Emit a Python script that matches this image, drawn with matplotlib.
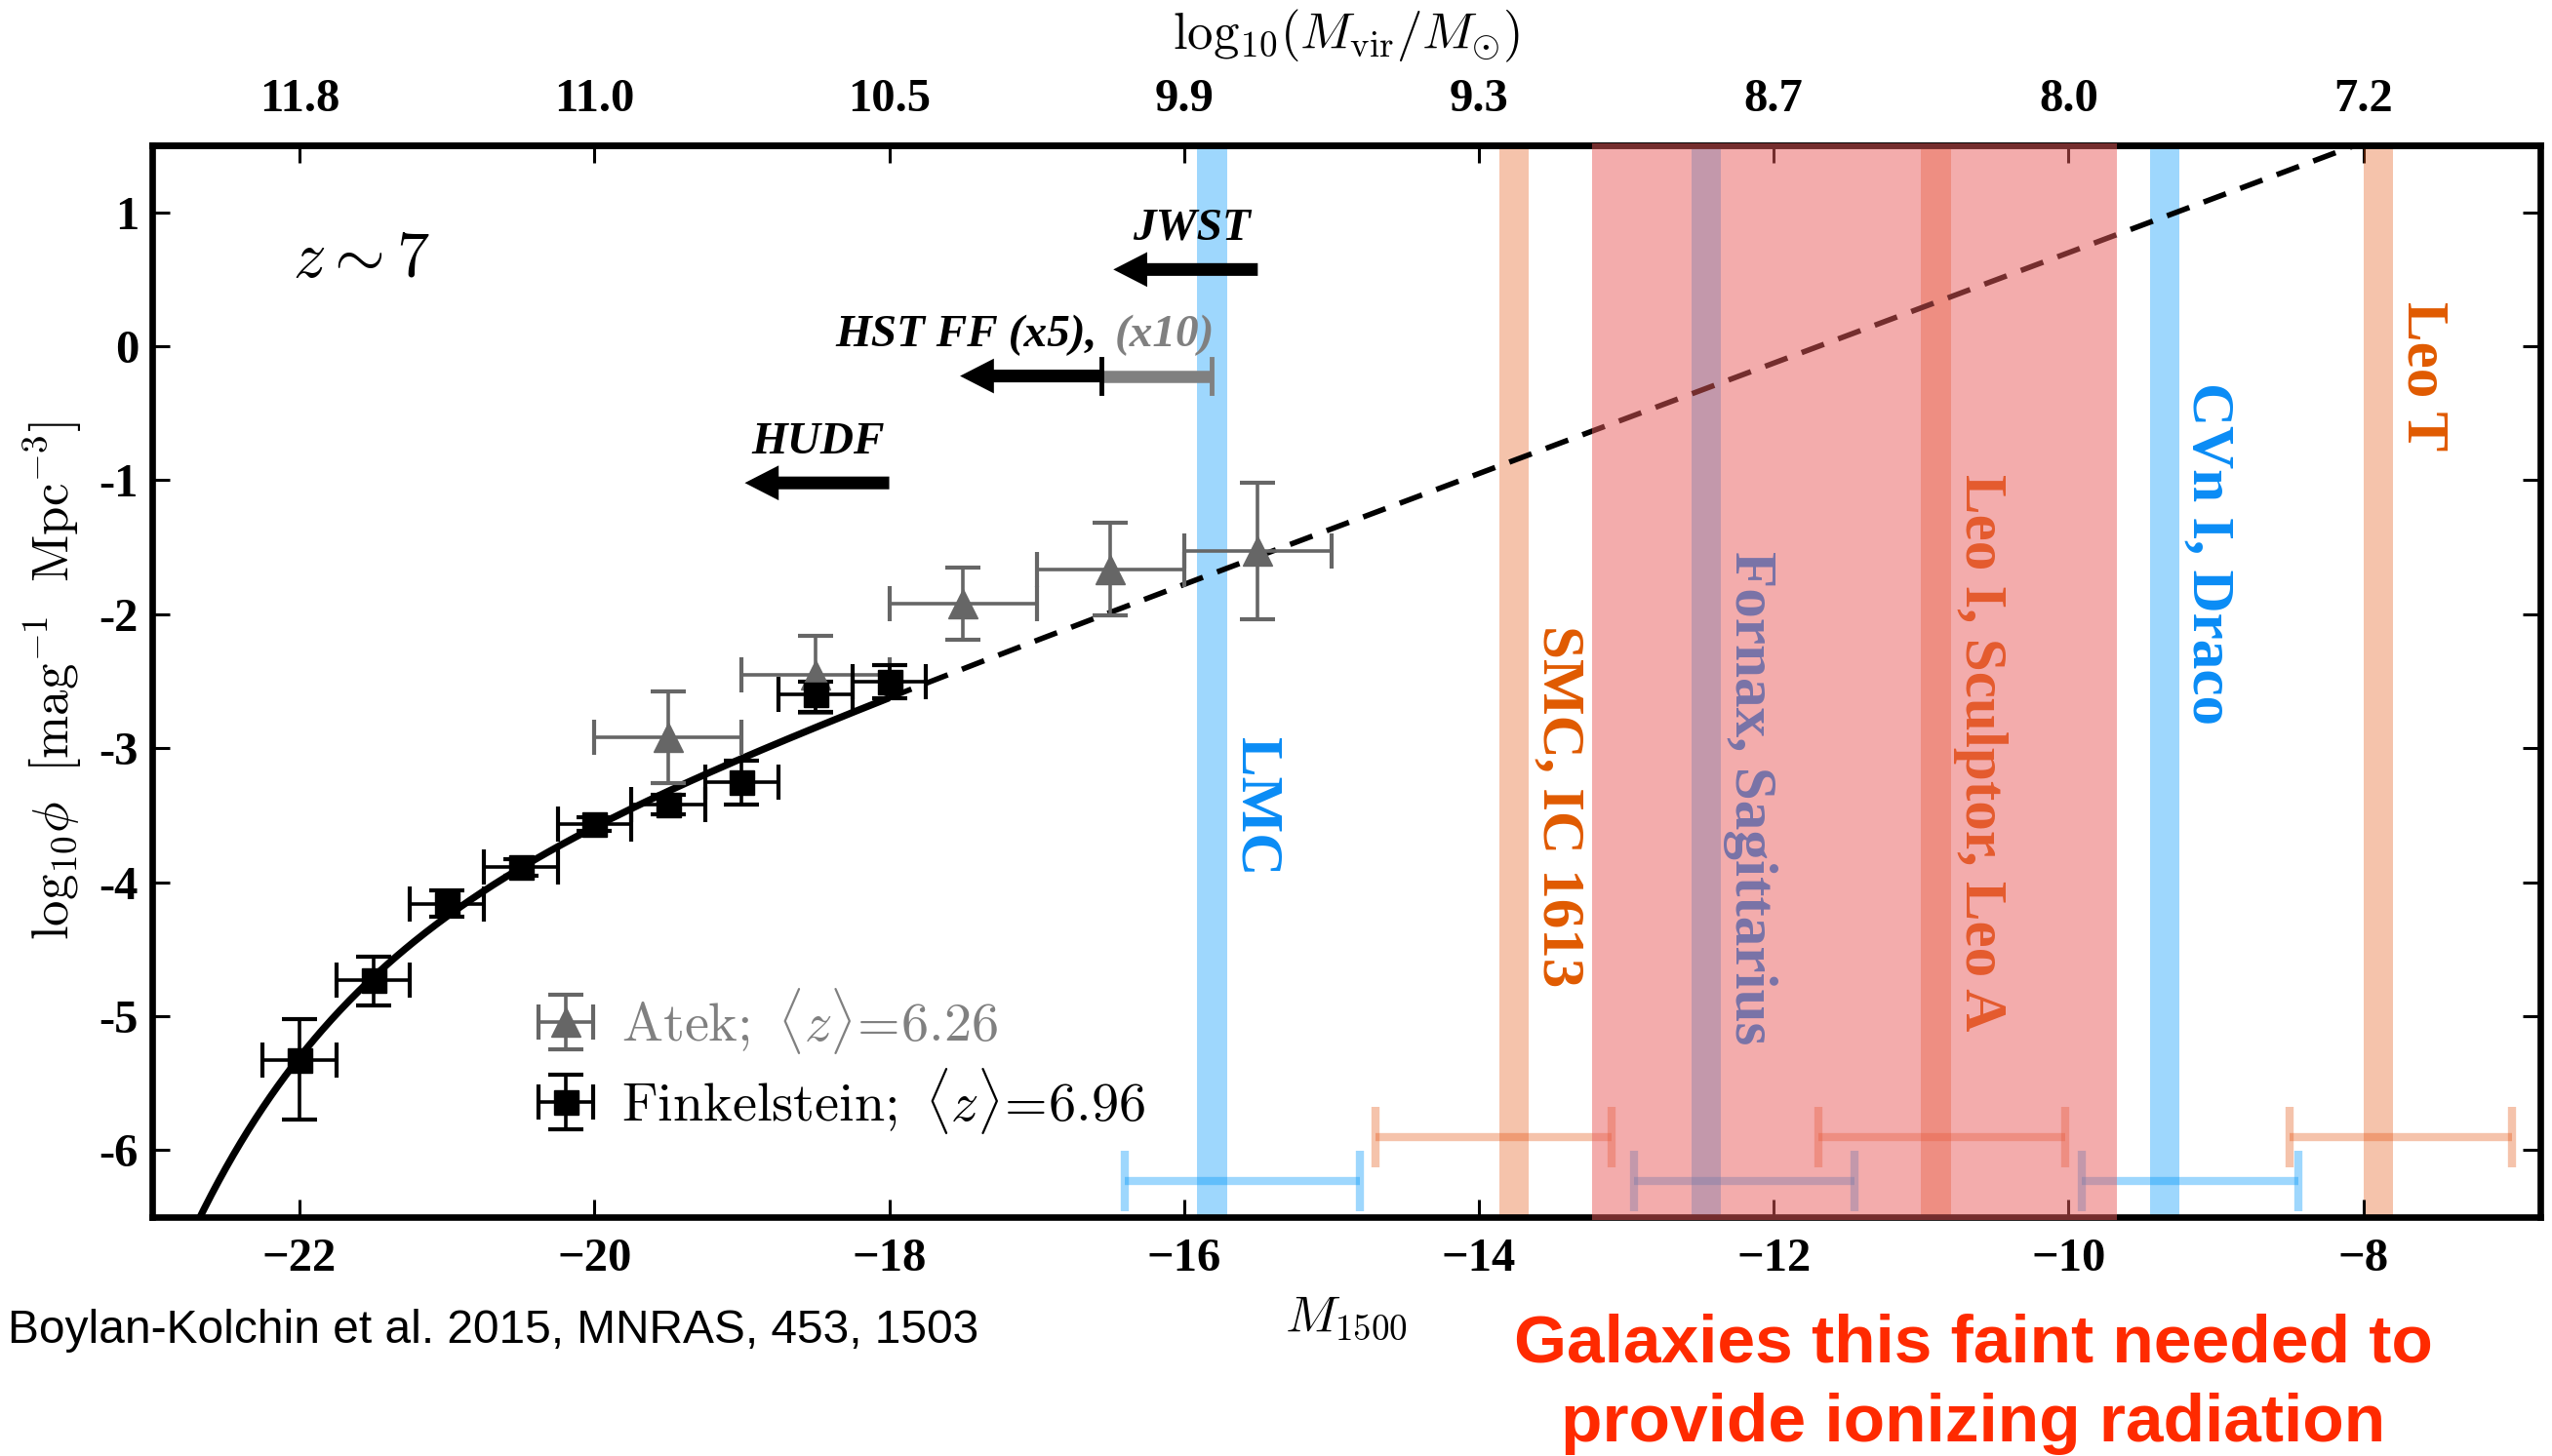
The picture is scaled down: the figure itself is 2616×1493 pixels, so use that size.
import numpy as np
import matplotlib
matplotlib.use("Agg")
import matplotlib.pyplot as plt
from matplotlib.patches import Rectangle
from matplotlib.transforms import blended_transform_factory

plt.rcParams["mathtext.fontset"] = "cm"
plt.rcParams["font.family"] = ["Liberation Serif", "DejaVu Serif"]

# ---- UV luminosity function data at z ~ 7 ----
fink_M = [-22.0, -21.5, -21.0, -20.5, -20.0, -19.5, -19.0, -18.5, -18.0]
fink_phi = [-5.33, -4.73, -4.16, -3.89, -3.565, -3.42, -3.25, -2.60, -2.50]
fink_err_lo = [0.44, 0.19, 0.10, 0.06, 0.05, 0.07, 0.17, 0.13, 0.13]
fink_err_hi = [0.31, 0.17, 0.10, 0.06, 0.05, 0.07, 0.16, 0.10, 0.12]
fink_dM = [0.25] * 9

atek_M = [-19.5, -18.5, -17.5, -16.5, -15.5]
atek_phi = [-2.92, -2.45, -1.92, -1.67, -1.53]
atek_err_lo = [0.34, 0.29, 0.27, 0.34, 0.51]
atek_err_hi = [0.34, 0.29, 0.27, 0.35, 0.51]
atek_dM = [0.5] * 5

# Schechter fit (magnitude form) parameters
schechter_Mstar = -21.03
schechter_alpha = -2.03
schechter_logphistar = -3.81
fit_bright_end = -23.0
fit_data_limit = -18.0
fit_faint_end = -6.8

# ---- Local Group analogues ----
gal_names = ["LMC", "SMC, IC 1613", "Fornax, Sagittarius",
             "Leo I, Sculptor, Leo A", "CVn I, Draco", "Leo T"]
gal_M = [-15.81, -13.76, -12.46, -10.90, -9.35, -7.90]
gal_range_lo = [-16.40, -14.70, -12.95, -11.70, -9.91, -8.50]
gal_range_hi = [-14.81, -13.10, -11.45, -10.02, -8.44, -6.99]
gal_range_y = [-6.23, -5.90, -6.23, -5.90, -6.23, -5.90]
gal_label_y = [-3.44, -3.43, -3.37, -3.03, -1.55, -0.22]
gal_kind = ["blue", "orange", "blue", "orange", "blue", "orange"]

faint_lo, faint_hi = -13.23, -9.67

# ---- survey depth limits (arrow tail, arrow head, height) ----
survey_names = ["JWST", "HST FF (x5),", "HUDF"]
survey_tail = [-15.50, -16.56, -18.00]
survey_head = [-16.48, -17.52, -18.98]
survey_y = [0.573, -0.222, -1.02]
hstff_x10_limit = -15.81

# ---- halo-mass axis ----
mass_tick_M = [-22, -20, -18, -16, -14, -12, -10, -8]
mass_tick_labels = ["11.8", "11.0", "10.5", "9.9", "9.3", "8.7", "8.0", "7.2"]

x_ticks = [-22, -20, -18, -16, -14, -12, -10, -8]
y_ticks = [-6, -5, -4, -3, -2, -1, 0, 1]

BLUE_TXT = "#0a8cf5"
ORANGE_TXT = "#e05a00"
BLUE_BAND = "#0096fa"
ORANGE_BAND = "#e4500a"
FAINT_RED = "#e85b5b"
GREY = "#666666"


def schechter_log(M):
    d = M - schechter_Mstar
    phi = (0.4 * np.log(10) * 10 ** schechter_logphistar
           * 10 ** (-0.4 * d * (schechter_alpha + 1))
           * np.exp(-10 ** (-0.4 * d)))
    return np.log10(phi)


fig = plt.figure(figsize=(26.16, 14.93), dpi=100)
ax = fig.add_axes([0.05963, 0.16410, 0.93578, 0.73610])
ax.set_xlim(-23.0, -6.8)
ax.set_ylim(-6.5, 1.5)

# vertical bands for the dwarf galaxies
for m, kind in zip(gal_M, gal_kind):
    col = BLUE_BAND if kind == "blue" else ORANGE_BAND
    ax.axvspan(m - 0.1, m + 0.1, color=col, alpha=0.38 if kind == "blue" else 0.34,
               lw=0, zorder=1)

# magnitude ranges at the bottom
for lo, hi, yb, kind in zip(gal_range_lo, gal_range_hi, gal_range_y, gal_kind):
    col = BLUE_BAND if kind == "blue" else ORANGE_BAND
    c = 0.5 * (lo + hi)
    ax.errorbar([c], [yb], xerr=[[c - lo], [hi - c]], fmt="none", ecolor=col,
                alpha=0.38 if kind == "blue" else 0.34, elinewidth=6,
                capsize=22, capthick=6, zorder=1)

# labels of the dwarf galaxies
for name, m, yl, kind in zip(gal_names, gal_M, gal_label_y, gal_kind):
    ax.text(m + 0.30, yl, name, rotation=-90, ha="center", va="center",
            color=BLUE_TXT if kind == "blue" else ORANGE_TXT,
            fontsize=44, fontweight="bold", family="Liberation Serif", zorder=2)

# Schechter fit: solid over the data, dashed extrapolation
M_solid = np.linspace(fit_bright_end, fit_data_limit, 400)
M_dash = np.linspace(fit_data_limit, fit_faint_end, 400)
ax.plot(M_solid, schechter_log(M_solid), color="k", lw=5.2, zorder=3,
        solid_capstyle="butt")
ax.plot(M_dash, schechter_log(M_dash), color="k", lw=4,
        linestyle=(0, (4.4, 2.8)), zorder=3)

# data points
atek = ax.errorbar(atek_M, atek_phi, xerr=atek_dM, yerr=[atek_err_lo, atek_err_hi],
                   fmt="^", color=GREY, ms=21, elinewidth=2.6, capsize=13,
                   capthick=3, zorder=4,
                   label=r"$\mathrm{Atek;}\ \langle z\rangle\!=\!6.26$")
fink = ax.errorbar(fink_M, fink_phi, xerr=fink_dM, yerr=[fink_err_lo, fink_err_hi],
                   fmt="s", color="k", ms=18, elinewidth=2.6, capsize=13,
                   capthick=3, zorder=4,
                   label=r"$\mathrm{Finkelstein;}\ \langle z\rangle\!=\!6.96$")

leg = ax.legend(handles=[atek, fink], loc="center left",
                bbox_to_anchor=(0.163, 0.1456), frameon=False, fontsize=40.5,
                handlelength=0.88, handletextpad=0.58, labelspacing=0.17,
                borderpad=0, borderaxespad=0)
leg.get_texts()[0].set_color("#808080")

# survey depth arrows
for tail, head, ya in zip(survey_tail, survey_head, survey_y):
    ax.arrow(tail, ya, head - tail, 0, width=0.095, head_width=0.26,
             head_length=0.23, length_includes_head=True, color="k", lw=0,
             zorder=4)
hst_y = survey_y[1]
ax.plot([survey_tail[1], hstff_x10_limit], [hst_y, hst_y], color="#808080",
        lw=9, solid_capstyle="butt", zorder=4)
ax.plot([survey_tail[1]] * 2, [hst_y - 0.13, hst_y + 0.13], color="k", lw=3.5,
        zorder=4)
ax.plot([hstff_x10_limit] * 2, [hst_y - 0.13, hst_y + 0.13], color="#808080",
        lw=3.5, zorder=4)

lab_font = dict(family="Liberation Serif", weight="bold", style="italic",
                size=34)
ax.text(-15.55, 0.80, survey_names[0], ha="right", va="baseline", **lab_font)
ax.text(-16.59, 0.003, survey_names[1], ha="right", va="baseline", **lab_font)
ax.text(-16.47, 0.003, "(x10)", ha="left", va="baseline", color="#808080",
        **lab_font)
ax.text(-18.03, -0.80, survey_names[2], ha="right", va="baseline", **lab_font)

ax.text(-21.58, 0.64, r"$z\sim7$", fontsize=48, ha="center", va="center")

# axes styling
for sp in ax.spines.values():
    sp.set_linewidth(4.8)
ax.set_xticks(x_ticks, ["\u2212%d" % abs(v) for v in x_ticks],
              family="Liberation Serif", weight="bold", fontsize=35)
ax.set_yticks(y_ticks, [str(v) for v in y_ticks],
              family="Liberation Serif", weight="bold", fontsize=35)
ax.tick_params(direction="in", length=13, width=2.2, top=False, right=True)
ax.tick_params(axis="x", pad=15)
ax.tick_params(axis="y", pad=10)
ax.minorticks_off()

ax.set_xlabel(r"$M_{1500}$", fontsize=38)
ax.xaxis.set_label_coords(0.5, -0.072)
ax.set_ylabel(r"$\mathrm{log}_{10}\phi\ \ [\mathrm{mag}^{-1}\ \ \mathrm{Mpc}^{-3}]$",
              fontsize=38)
ax.yaxis.label.set_verticalalignment("center")
ax.yaxis.set_label_coords(-0.0415, 0.5)

sec = ax.secondary_xaxis("top")
sec.set_xticks(mass_tick_M, mass_tick_labels, family="Liberation Serif",
               weight="bold", fontsize=35)
sec.tick_params(direction="in", length=13, width=2.2, pad=18)
sec.spines["top"].set_linewidth(4.8)
fig.text(0.5 * (0.05963 + 0.99541), 0.975,
         r"$\mathrm{log}_{10}(M_{\rm vir}/M_{\odot})$", fontsize=38,
         ha="center", va="center")

# translucent overlay marking the faint galaxies needed for reionization
overlay = Rectangle((faint_lo, -0.003), faint_hi - faint_lo, 1.005,
                    transform=blended_transform_factory(ax.transData, ax.transAxes),
                    facecolor=FAINT_RED, alpha=0.5, lw=0, clip_on=False,
                    zorder=5)
fig.add_artist(overlay)

fig.text(0.003, 0.0864, "Boylan-Kolchin et al. 2015, MNRAS, 453, 1503",
         family="Liberation Sans", fontsize=34.5, ha="left", va="center")
fig.text(0.7733, 0.077, "Galaxies this faint needed to",
         family="Liberation Sans", fontsize=50, fontweight="bold",
         color="#ff2a00", ha="center", va="center")
fig.text(0.7733, 0.022, "provide ionizing radiation",
         family="Liberation Sans", fontsize=50, fontweight="bold",
         color="#ff2a00", ha="center", va="center")

fig.savefig("out.png", dpi=100)
